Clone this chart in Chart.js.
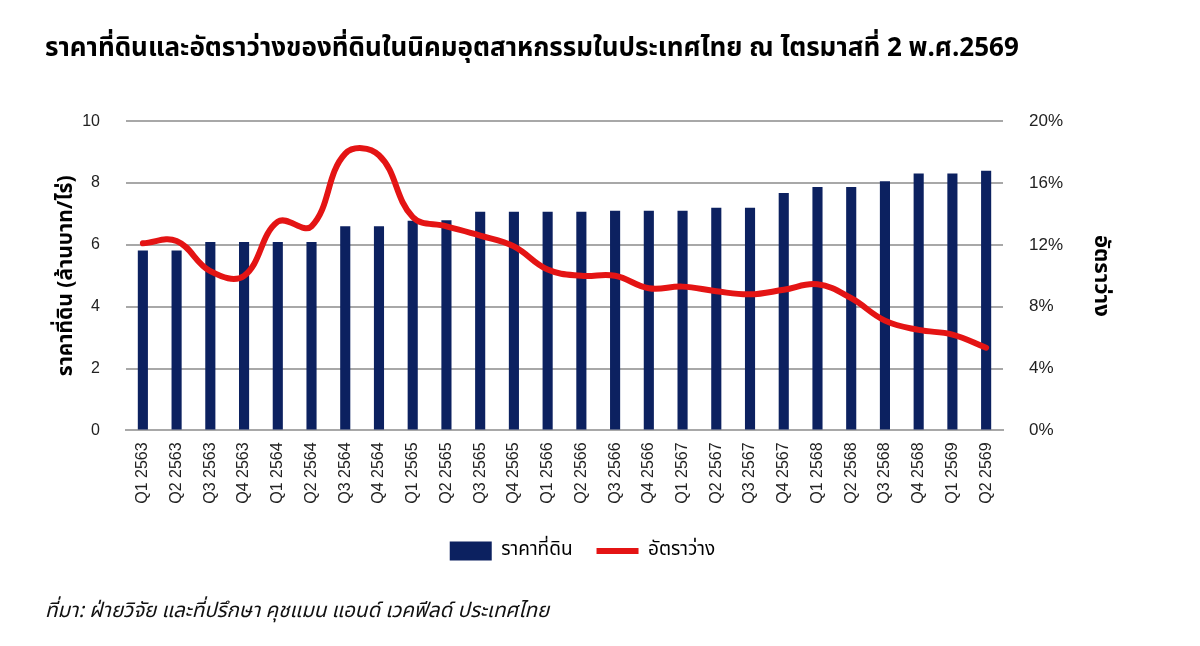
<!DOCTYPE html>
<html>
<head>
<meta charset="utf-8">
<script src="https://cdn.jsdelivr.net/npm/chart.js@4.4.1/dist/chart.umd.min.js"></script>
<style>
  html, body { margin: 0; padding: 0; background: #fff; }
  #myChart { display: block; }
</style>
</head>
<body>
<canvas id="myChart" width="1200" height="646"></canvas>
<script>
const quarter_labels = ['Q1 2563', 'Q2 2563', 'Q3 2563', 'Q4 2563', 'Q1 2564', 'Q2 2564', 'Q3 2564', 'Q4 2564',
    'Q1 2565', 'Q2 2565', 'Q3 2565', 'Q4 2565', 'Q1 2566', 'Q2 2566', 'Q3 2566', 'Q4 2566',
    'Q1 2567', 'Q2 2567', 'Q3 2567', 'Q4 2567', 'Q1 2568', 'Q2 2568', 'Q3 2568', 'Q4 2568',
    'Q1 2569', 'Q2 2569'];
// ราคาที่ดิน (ล้านบาท/ไร่)
const land_price = [5.82, 5.82, 6.09, 6.09, 6.09, 6.09, 6.6, 6.6, 6.78, 6.8, 7.07, 7.07, 7.07,
    7.07, 7.1, 7.1, 7.1, 7.2, 7.2, 7.68, 7.87, 7.87, 8.06, 8.31, 8.31, 8.4];
// อัตราว่าง (%)
const vacancy_rate = [12.1, 12.25, 10.3, 10.0, 13.5, 13.2, 17.9, 17.8, 13.8, 13.2, 12.6, 11.9, 10.4,
    10.0, 10.0, 9.2, 9.3, 9.0, 8.8, 9.1, 9.45, 8.55, 7.1, 6.5, 6.2, 5.35];
const price_ticks = [0, 2, 4, 6, 8, 10];
const rate_ticks = [0, 4, 8, 12, 16, 20];

const thaiFont = "'Noto Sans Thai', 'Loma', 'Garuda', 'Tahoma', 'Liberation Sans', sans-serif";
const numFont = "'Liberation Sans', Arial, sans-serif";
const navy = '#0c2160';
const red = '#e41414';
const grid = '#a8a8a8';

// nudge the legend a bit left, like the original
const legendShift = {
    id: 'legendShift',
    afterLayout: function (chart) {
        chart.legend.left -= 40;
        chart.legend.right -= 40;
    }
};

const ctx = document.getElementById('myChart');
new Chart(ctx, {
    type: 'bar',
    data: {
        labels: quarter_labels,
        datasets: [{
            type: 'line',
            label: 'อัตราว่าง',
            data: vacancy_rate,
            yAxisID: 'y1',
            borderColor: red,
            backgroundColor: red,
            borderWidth: 6,
            borderCapStyle: 'round',
            pointRadius: 0,
            pointStyle: 'line',
            tension: 0.4,
            order: 1
        }, {
            label: 'ราคาที่ดิน',
            data: land_price,
            yAxisID: 'y',
            backgroundColor: navy,
            borderWidth: 0,
            pointStyle: 'rect',
            barPercentage: 0.3,
            categoryPercentage: 1,
            order: 2
        }]
    },
    plugins: [legendShift],
    options: {
        responsive: false,
        animation: false,
        devicePixelRatio: 1,
        layout: { padding: { left: 45, right: 0, top: 0, bottom: 0 } },
        plugins: {
            title: {
                display: true,
                text: 'ราคาที่ดินและอัตราว่างของที่ดินในนิคมอุตสาหกรรมในประเทศไทย ณ ไตรมาสที่ 2 พ.ศ.2569',
                align: 'start',
                color: '#000',
                font: { family: thaiFont, size: 26, weight: 'bold' },
                padding: { top: 35, bottom: 55 }
            },
            subtitle: {
                display: true,
                position: 'bottom',
                align: 'start',
                text: 'ที่มา: ฝ่ายวิจัย และที่ปรึกษา คุชแมน แอนด์ เวคฟีลด์ ประเทศไทย',
                color: '#111',
                font: { family: thaiFont, size: 20.5, style: 'italic' },
                padding: { top: 30, bottom: 21 }
            },
            legend: {
                position: 'bottom',
                reverse: true,
                labels: {
                    usePointStyle: true,
                    pointStyleWidth: 42,
                    boxHeight: 19,
                    padding: 24,
                    color: '#000',
                    font: { family: thaiFont, size: 19 }
                }
            },
            tooltip: { enabled: false }
        },
        scales: {
            x: {
                grid: { display: false, drawTicks: false },
                border: { color: grid, width: 2 },
                ticks: {
                    minRotation: 90,
                    maxRotation: 90,
                    padding: 12,
                    color: '#222',
                    font: { family: numFont, size: 16 }
                },
                afterFit: function (scale) { scale.height = 87; }
            },
            y: {
                position: 'left',
                min: 0,
                max: 10,
                afterBuildTicks: function (scale) { scale.ticks = price_ticks.map(v => ({ value: v })); },
                grid: { color: grid, lineWidth: 2, drawTicks: false },
                border: { display: false },
                ticks: { padding: 26, color: '#222', font: { family: numFont, size: 16 } },
                title: {
                    display: true,
                    text: 'ราคาที่ดิน (ล้านบาท/ไร่)',
                    color: '#000',
                    font: { family: thaiFont, size: 21, weight: 'bold' },
                    padding: { top: 10, bottom: 0 }
                },
                afterFit: function (scale) { scale.width = 81; }
            },
            y1: {
                position: 'right',
                min: 0,
                max: 20,
                afterBuildTicks: function (scale) { scale.ticks = rate_ticks.map(v => ({ value: v })); },
                grid: { display: false, drawTicks: false },
                border: { display: false },
                ticks: {
                    padding: 26,
                    color: '#222',
                    font: { family: numFont, size: 17 },
                    callback: function (v) { return v + '%'; }
                },
                title: {
                    display: true,
                    text: 'อัตราว่าง',
                    color: '#000',
                    font: { family: thaiFont, size: 22, weight: 'bold' },
                    padding: { top: 87, bottom: 0 }
                },
                afterFit: function (scale) { scale.width = 197; }
            }
        }
    }
});
</script>
</body>
</html>
